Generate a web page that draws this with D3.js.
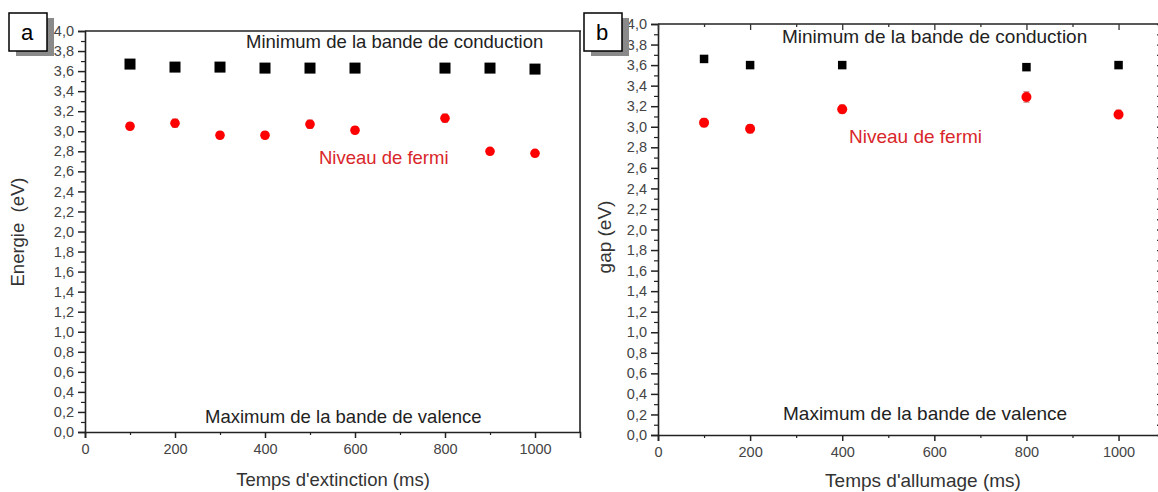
<!DOCTYPE html>
<html><head><meta charset="utf-8">
<script src="https://cdn.jsdelivr.net/npm/d3@7"></script>
<style>
html,body{margin:0;padding:0;background:#fff;}
svg{display:block;font-family:"Liberation Sans",Arial,sans-serif;}
</style></head>
<body><svg id="c" width="1158" height="492"></svg>
<script>
// ---- data ----
const timesA = [100, 200, 300, 400, 500, 600, 800, 900, 1000];
const cbmA   = [3.67, 3.64, 3.64, 3.63, 3.63, 3.63, 3.63, 3.63, 3.62];
const fermiA = [3.05, 3.08, 2.96, 2.96, 3.07, 3.01, 3.13, 2.80, 2.78];
const fermiErrA = [0.03, 0.04, 0.03, 0.03, 0.04, 0.03, 0.04, 0.03, 0.03];

const timesB = [100, 200, 400, 800, 1000];
const cbmB   = [3.66, 3.60, 3.60, 3.58, 3.60];
const cbmErrB = [0.03, 0.02, 0.02, 0.02, 0.02];
const fermiB = [3.04, 2.98, 3.17, 3.29, 3.12];
const fermiErrB = [0.04, 0.04, 0.04, 0.05, 0.04];

const xTicks = [0, 200, 400, 600, 800, 1000];
const xMinorTicks = [100, 300, 500, 700, 900];
const yTicks = [0, 0.2, 0.4, 0.6, 0.8, 1.0, 1.2, 1.4, 1.6, 1.8, 2.0, 2.2, 2.4, 2.6, 2.8, 3.0, 3.2, 3.4, 3.6, 3.8, 4.0];
const yMinorTicks = [0.1, 0.3, 0.5, 0.7, 0.9, 1.1, 1.3, 1.5, 1.7, 1.9, 2.1, 2.3, 2.5, 2.7, 2.9, 3.1, 3.3, 3.5, 3.7, 3.9];

const svg = d3.select("#c");
const fmt = v => d3.format(".1f")(v).replace(".", ",");

function panel(o) {
  const x = d3.scaleLinear().domain([0, o.xMax]).range([o.left, o.right]);
  const y = d3.scaleLinear().domain([0, 4]).range([o.bottom, o.top]);
  const g = svg.append("g");

  // frame: top + right lines
  g.append("line").attr("x1", o.left).attr("x2", o.right + 1).attr("y1", o.top).attr("y2", o.top)
    .attr("stroke", "#222").attr("stroke-width", 1.6);
  g.append("line").attr("x1", o.right).attr("x2", o.right).attr("y1", o.top).attr("y2", o.bottom)
    .attr("stroke", "#222").attr("stroke-width", 1.6);

  // left axis
  const ya = g.append("g").attr("transform", `translate(${o.left},0)`)
    .call(d3.axisLeft(y).tickValues(yTicks).tickFormat(fmt).tickSize(7).tickPadding(4));
  const yam = g.append("g").attr("transform", `translate(${o.left},0)`)
    .call(d3.axisLeft(y).tickValues(yMinorTicks).tickFormat("").tickSize(4));
  yam.select(".domain").remove();
  // bottom axis
  const xa = g.append("g").attr("transform", `translate(0,${o.bottom})`)
    .call(d3.axisBottom(x).tickValues(xTicks).tickFormat(d3.format("d")).tickSize(6).tickPadding(6));
  const xam = g.append("g").attr("transform", `translate(0,${o.bottom})`)
    .call(d3.axisBottom(x).tickValues(xMinorTicks).tickFormat("").tickSize(3));
  xam.select(".domain").remove();
  [ya, xa].forEach(a => {
    a.select(".domain").attr("stroke", "#222").attr("stroke-width", 1.6);
    a.selectAll("text").attr("fill", "#444").style("font-size", "14.5px");
  });
  ya.selectAll(".tick line").attr("stroke", "#222").attr("stroke-width", 1.5);
  yam.selectAll(".tick line").attr("stroke", "#222").attr("stroke-width", 1.2);
  xa.selectAll(".tick line").attr("stroke", "#222").attr("stroke-width", 1.5);
  xam.selectAll(".tick line").attr("stroke", "#222").attr("stroke-width", 1.2);

  if (o.mirrorTicks) {
    const ta = g.append("g").attr("transform", `translate(0,${o.top})`)
      .call(d3.axisBottom(x).tickValues(xTicks).tickFormat("").tickSize(6));
    const tam = g.append("g").attr("transform", `translate(0,${o.top})`)
      .call(d3.axisBottom(x).tickValues(xMinorTicks).tickFormat("").tickSize(3));
    const ra = g.append("g").attr("transform", `translate(${o.right},0)`)
      .call(d3.axisLeft(y).tickValues(yMinorTicks.concat(yTicks)).tickFormat("").tickSize(3));
    [ta, tam, ra].forEach(a => { a.select(".domain").remove(); a.selectAll(".tick line").attr("stroke", "#333").attr("stroke-width", 1.3); });
  }

  // error bars
  function errs(times, vals, errsArr, color) {
    const eg = g.append("g").attr("stroke", color).attr("stroke-width", 1.4);
    times.forEach((t, i) => {
      eg.append("line").attr("x1", x(t)).attr("x2", x(t)).attr("y1", y(vals[i] - errsArr[i])).attr("y2", y(vals[i] + errsArr[i]));
      [-1, 1].forEach(s => eg.append("line").attr("x1", x(t) - 3).attr("x2", x(t) + 3)
        .attr("y1", y(vals[i] + s * errsArr[i])).attr("y2", y(vals[i] + s * errsArr[i])));
    });
  }
  if (o.cbmErr) errs(o.times, o.cbm, o.cbmErr, "#999");
  errs(o.times, o.fermi, o.fermiErr, "#c88");

  // squares
  g.selectAll(".sq").data(o.times).enter().append("rect")
    .attr("x", (d) => x(d) - o.sq / 2).attr("y", (d, i) => y(o.cbm[i]) - o.sq / 2)
    .attr("width", o.sq).attr("height", o.sq).attr("fill", "#000");
  // circles
  g.selectAll(".ci").data(o.times).enter().append("circle")
    .attr("cx", d => x(d)).attr("cy", (d, i) => y(o.fermi[i])).attr("r", o.r).attr("fill", "#ff0000");

  // annotations
  const t = (txt, ax, ay, color, size, anchor) => g.append("text").attr("x", ax).attr("y", ay)
    .attr("fill", color).style("font-size", size + "px").attr("text-anchor", anchor || "start").text(txt);
  t("Minimum de la bande de conduction", o.minX, o.minY, "#222", o.fs);
  t("Niveau de fermi", o.nivX, o.nivY, "#d9262a", o.fs);
  t("Maximum de la bande de valence", o.maxX, o.maxY, "#222", o.fs);
  t(o.xTitle, o.xtX, o.xtY, "#333", o.fs, "middle");
  g.append("text").attr("transform", `translate(${o.ytX},${o.ytY}) rotate(-90)`).attr("text-anchor", "middle")
    .attr("fill", "#333").style("font-size", o.fs + "px").style("white-space", "pre").attr("xml:space", "preserve").text(o.yTitle);

  // panel label box with shadow
  g.append("rect").attr("x", o.bx + 7).attr("y", o.by + 5).attr("width", 38).attr("height", 38).attr("fill", "#8a8a8a");
  g.append("rect").attr("x", o.bx).attr("y", o.by).attr("width", 38).attr("height", 38).attr("fill", "#fff")
    .attr("stroke", "#000").attr("stroke-width", 1.5);
  g.append("text").attr("x", o.bx + 12).attr("y", o.by + 27).style("font-size", "22px").attr("fill", "#000").text(o.label);
}

panel({
  left: 85, right: 580, top: 31, bottom: 432, xMax: 1100,
  times: timesA, cbm: cbmA, fermi: fermiA, fermiErr: fermiErrA,
  sq: 11, r: 4.8, fs: 18.5,
  minX: 246, minY: 48, nivX: 319, nivY: 164, maxX: 205, maxY: 423,
  xTitle: "Temps d'extinction (ms)", xtX: 333, xtY: 486,
  yTitle: "Energie  (eV)", ytX: 24, ytY: 232,
  bx: 9, by: 13, label: "a", mirrorTicks: false
});
panel({
  left: 658, right: 1160, top: 24, bottom: 435, xMax: 1090,
  times: timesB, cbm: cbmB, cbmErr: cbmErrB, fermi: fermiB, fermiErr: fermiErrB,
  sq: 8.5, r: 5, fs: 19,
  minX: 782, minY: 43, nivX: 849, nivY: 143, maxX: 783, maxY: 420,
  xTitle: "Temps d'allumage (ms)", xtX: 923, xtY: 487,
  yTitle: "gap (eV)", ytX: 611, ytY: 237,
  bx: 584, by: 13, label: "b", mirrorTicks: true
});
</script></body></html>
